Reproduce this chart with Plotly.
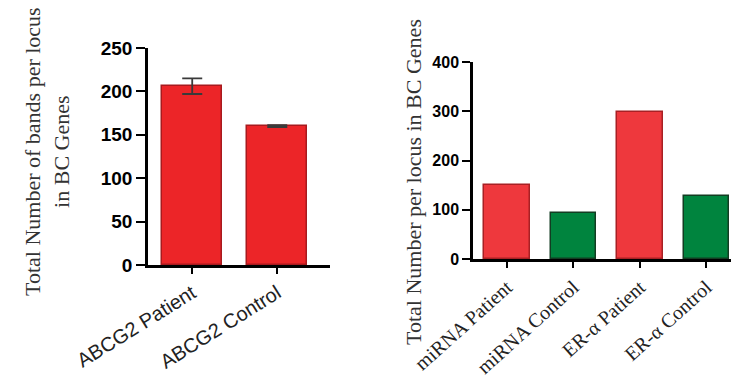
import plotly.graph_objects as go

# Left panel data
left_cats = ["ABCG2 Patient", "ABCG2 Control"]
left_vals = [206, 160]
left_err = [9, 1]
left_ticks = [0, 50, 100, 150, 200, 250]

# Right panel data
right_cats = ["miRNA Patient", "miRNA Control", "ER-α Patient", "ER-α Control"]
right_vals = [150, 93, 299, 128]
right_colors = ["#EE383D", "#00843E", "#EE383D", "#00843E"]
right_edges = ["#A82024", "#123D22", "#A82024", "#123D22"]
right_ticks = [0, 100, 200, 300, 400]

W, H = 731, 381
def px(x): return x / W
def py(y): return 1 - y / H

fig = go.Figure()
fig.add_trace(go.Bar(
    x=left_cats, y=left_vals, xaxis="x", yaxis="y",
    marker=dict(color="#EC2528", line=dict(color="#A81A1E", width=1.5)),
    width=0.71,
    error_y=dict(type="data", array=left_err, color="#3a3a3a", thickness=1.8, width=10),
    showlegend=False,
))
fig.add_trace(go.Bar(
    x=right_cats, y=right_vals, xaxis="x2", yaxis="y2",
    marker=dict(color=right_colors, line=dict(color=right_edges, width=1.5)),
    width=0.68, showlegend=False,
))

axis_common = dict(showline=True, linecolor="black", linewidth=2.5, showgrid=False,
                   zeroline=False, ticks="outside", tickcolor="black", tickwidth=2,
                   automargin=False)

fig.update_layout(
    width=W, height=H, margin=dict(l=0, r=0, t=0, b=0),
    paper_bgcolor="white", plot_bgcolor="white",
    bargap=0,
    xaxis=dict(domain=[px(148), px(330)], anchor="y", range=[-0.52, 1.62],
               tickangle=-32, ticklen=6,
               tickfont=dict(family="Liberation Sans, Arial", size=20, color="#222"),
               **axis_common),
    yaxis=dict(domain=[py(265), py(48)], anchor="x", range=[0, 250],
               tickvals=left_ticks, ticklen=9,
               tickfont=dict(family="Liberation Sans, Arial", size=19, color="black", weight="bold"),
               **axis_common),
    xaxis2=dict(domain=[px(473), 1.0], anchor="y2", range=[-0.51, 3.37],
                tickangle=-42, ticklen=6,
                tickfont=dict(family="Liberation Serif, Times New Roman", size=20, color="#222"),
                **axis_common),
    yaxis2=dict(domain=[py(259), py(62)], anchor="x2", range=[0, 400],
                tickvals=right_ticks, ticklen=8,
                tickfont=dict(family="Liberation Sans, Arial", size=16, color="black", weight="bold"),
                **axis_common),
    annotations=[
        dict(text="Total Number of bands per locus<br>in BC Genes", textangle=-90,
             x=px(47), y=py(152), xref="paper", yref="paper", showarrow=False,
             xanchor="center", yanchor="middle",
             font=dict(family="Liberation Serif, Times New Roman", size=22, color="#333")),
        dict(text="Total Number per locus in BC Genes", textangle=-90,
             x=px(413), y=py(182), xref="paper", yref="paper", showarrow=False,
             xanchor="center", yanchor="middle",
             font=dict(family="Liberation Serif, Times New Roman", size=22, color="#333")),
    ],
)

fig.write_html("out.html")
